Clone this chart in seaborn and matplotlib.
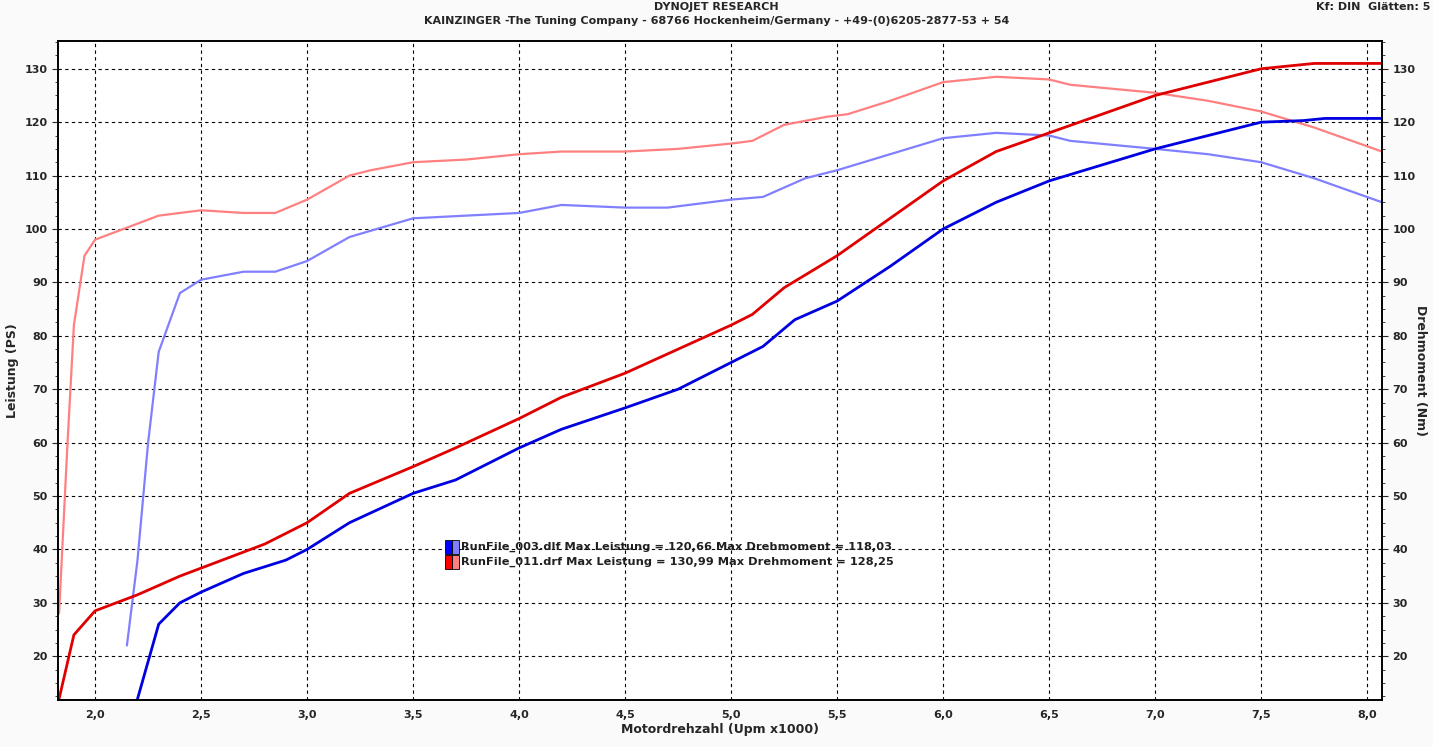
import matplotlib
matplotlib.use("Agg")
import matplotlib.pyplot as plt
import seaborn as sns
import pandas as pd
from matplotlib.ticker import MultipleLocator

# Leistung (PS) - RunFile_003 (blau) und RunFile_011 (rot)
rpm_p003 = [2.2, 2.3, 2.4, 2.5, 2.7, 2.9, 3.0, 3.2, 3.5, 3.7, 4.0, 4.2, 4.5, 4.75, 5.0, 5.15, 5.3, 5.5,
            5.75, 6.0, 6.25, 6.5, 6.75, 7.0, 7.25, 7.5, 7.7, 7.8, 8.07]
ps_003 = [12, 26, 30, 32, 35.5, 38, 40, 45, 50.5, 53, 59, 62.5, 66.5, 70, 75, 78, 83, 86.5,
          93, 100, 105, 109, 112, 115, 117.5, 120, 120.3, 120.7, 120.7]
rpm_p011 = [1.83, 1.9, 2.0, 2.2, 2.4, 2.6, 2.8, 3.0, 3.2, 3.5, 3.7, 4.0, 4.2, 4.5, 4.75, 5.0, 5.1,
            5.25, 5.5, 5.75, 6.0, 6.25, 6.5, 6.75, 7.0, 7.25, 7.5, 7.75, 8.07]
ps_011 = [12, 24, 28.5, 31.5, 35, 38, 41, 45, 50.5, 55.5, 59, 64.5, 68.5, 73, 77.5, 82, 84,
          89, 95, 102, 109, 114.5, 118, 121.5, 125, 127.5, 130, 131, 131]

# Drehmoment (Nm)
rpm_t003 = [2.15, 2.2, 2.25, 2.3, 2.4, 2.5, 2.7, 2.85, 3.0, 3.2, 3.5, 3.75, 4.0, 4.2, 4.5, 4.7, 5.0,
            5.15, 5.35, 5.5, 5.75, 6.0, 6.25, 6.5, 6.6, 7.0, 7.25, 7.5, 7.75, 8.07]
nm_003 = [22, 38, 60, 77, 88, 90.5, 92, 92, 94, 98.5, 102, 102.5, 103, 104.5, 104, 104, 105.5,
          106, 109.5, 111, 114, 117, 118, 117.5, 116.5, 115, 114, 112.5, 109.5, 105]
rpm_t011 = [1.83, 1.87, 1.9, 1.95, 2.0, 2.2, 2.3, 2.5, 2.7, 2.85, 3.0, 3.2, 3.3, 3.5, 3.75, 4.0, 4.2,
            4.5, 4.75, 5.0, 5.1, 5.25, 5.45, 5.55, 5.75, 6.0, 6.25, 6.5, 6.6, 7.0, 7.25, 7.5, 7.75, 8.07]
nm_011 = [28, 60, 82, 95, 98, 101, 102.5, 103.5, 103, 103, 105.5, 110, 111, 112.5, 113, 114, 114.5,
          114.5, 115, 116, 116.5, 119.5, 121, 121.5, 124, 127.5, 128.5, 128, 127, 125.5, 124, 122, 119, 114.5]

df_p = pd.concat([pd.DataFrame({"rpm": rpm_p003, "val": ps_003, "run": "003"}),
                  pd.DataFrame({"rpm": rpm_p011, "val": ps_011, "run": "011"})])
df_t = pd.concat([pd.DataFrame({"rpm": rpm_t003, "val": nm_003, "run": "003"}),
                  pd.DataFrame({"rpm": rpm_t011, "val": nm_011, "run": "011"})])

sns.set_style("white")
plt.rcParams["font.family"] = ["DejaVu Sans"]
fig = plt.figure(figsize=(14.33, 7.47), dpi=100, facecolor="#fafafa")
ax = fig.add_axes([58 / 1433, 47 / 747, 1324 / 1433, 659 / 747])
ax2 = ax.twinx()

xmin, xmax, ymin, ymax = 1.825, 8.07, 11.8, 135.2
sns.lineplot(data=df_t, x="rpm", y="val", hue="run", palette={"003": "#8080ff", "011": "#ff8080"},
             ax=ax, legend=False, linewidth=1.6, sort=False)
sns.lineplot(data=df_p, x="rpm", y="val", hue="run", palette={"003": "#0000e0", "011": "#e00000"},
             ax=ax, legend=False, linewidth=2, sort=False)

for a in (ax, ax2):
    a.set_ylim(ymin, ymax)
    a.set_yticks(range(20, 131, 10))
    a.yaxis.set_minor_locator(MultipleLocator(2.5))
    a.tick_params(labelsize=8, length=4, direction="out")
    a.tick_params(which="minor", length=2, direction="out", left=(a is ax), right=(a is ax2))
    for lbl in a.get_yticklabels():
        lbl.set_fontweight("bold")
ax.set_xlim(xmin, xmax)
xt = [2.0 + 0.5 * i for i in range(13)]
ax.set_xticks(xt)
ax.set_xticklabels([f"{v:.1f}".replace(".", ",") for v in xt], fontsize=8, fontweight="bold")
ax.grid(True, color="black", linestyle=(0, (3, 3)), linewidth=0.8)
ax.set_xlabel("Motordrehzahl (Upm x1000)", fontsize=9, fontweight="bold", labelpad=2)
ax.set_ylabel("Leistung (PS)", fontsize=9, fontweight="bold")
ax2.set_ylabel("Drehmoment (Nm)", fontsize=9, fontweight="bold", rotation=270, labelpad=8)
ax.set_facecolor("white")
for a in (ax, ax2):
    for s in a.spines.values():
        s.set_color("black")
        s.set_linewidth(1.2)

fig.text(0.5, 0.997, "DYNOJET RESEARCH", ha="center", va="top", fontsize=8, fontweight="bold")
fig.text(0.5, 0.979, "KAINZINGER -The Tuning Company - 68766 Hockenheim/Germany - +49-(0)6205-2877-53 + 54",
         ha="center", va="top", fontsize=8, fontweight="bold")
fig.text(0.998, 0.997, "Kf: DIN  Glätten: 5", ha="right", va="top", fontsize=8, fontweight="bold")

# Legende
legend_rows = [("RunFile_003.dlf Max Leistung = 120,66 Max Drehmoment = 118,03", "#0000ff", "#8080ff"),
               ("RunFile_011.drf Max Leistung = 130,99 Max Drehmoment = 128,25", "#ff0000", "#ff8080")]
for i, (txt, c1, c2) in enumerate(legend_rows):
    y = 1 - (547 + 15 * i - 41) / 659
    ax.add_patch(plt.Rectangle((445 / 1324 - 58 / 1324, y - 0.011), 7 / 1324, 0.022, transform=ax.transAxes,
                               facecolor=c1, edgecolor="black", lw=0.6, zorder=5))
    ax.add_patch(plt.Rectangle((452 / 1324 - 58 / 1324, y - 0.011), 7 / 1324, 0.022, transform=ax.transAxes,
                               facecolor=c2, edgecolor="black", lw=0.6, zorder=5))
    ax.text((461 - 58) / 1324, y, txt, transform=ax.transAxes, fontsize=8.2, fontweight="bold",
            va="center", ha="left", color="#202020", zorder=6)

fig.savefig("out.png", dpi=100, facecolor=fig.get_facecolor())
